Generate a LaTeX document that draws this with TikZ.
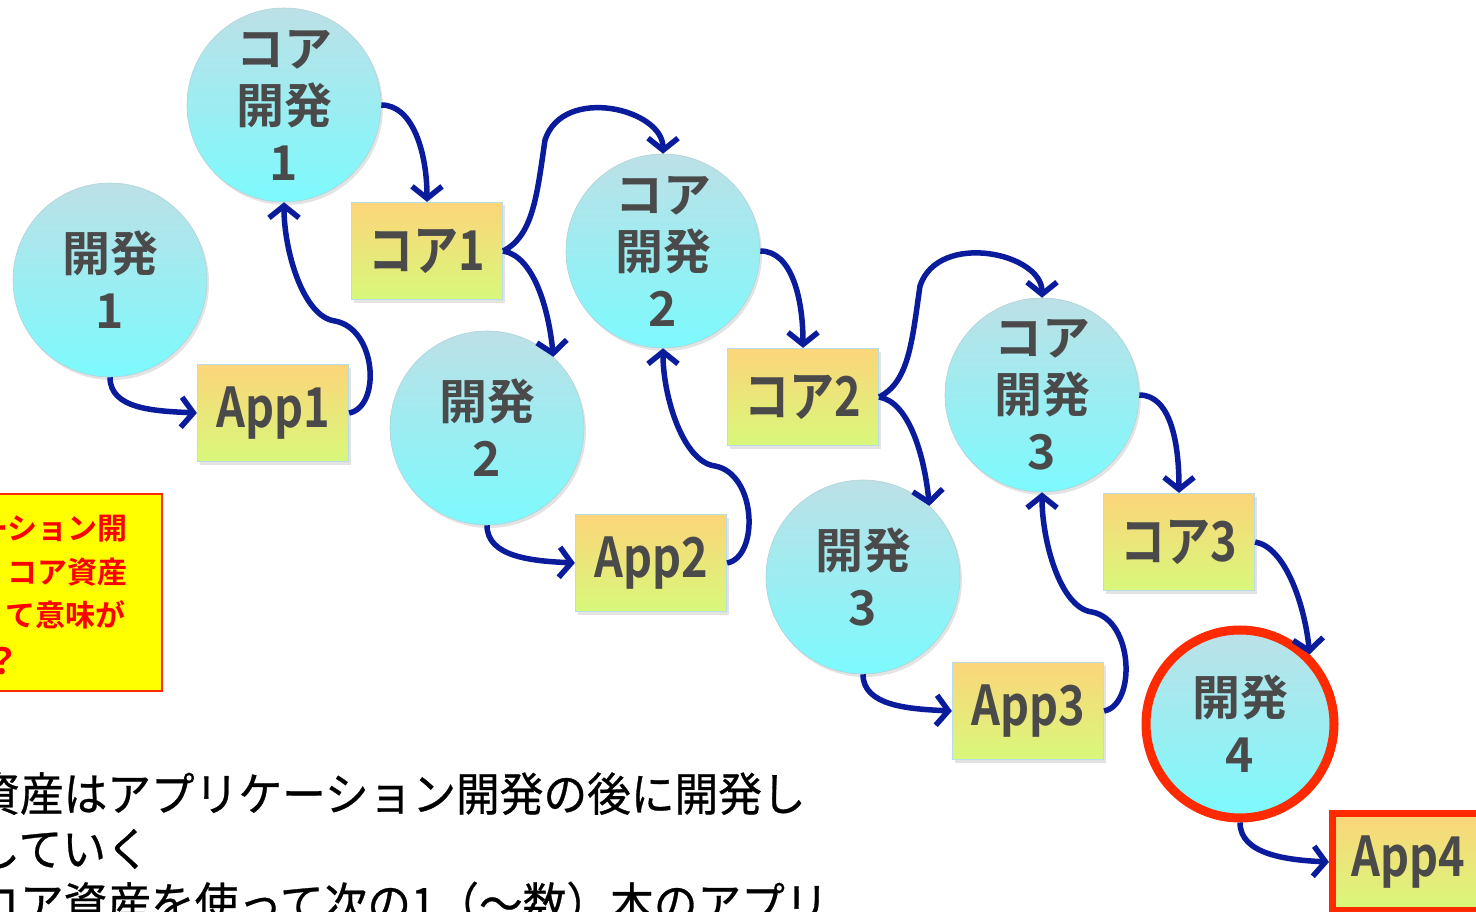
\documentclass[tikz,border=0pt]{standalone}
\usepackage{fontspec}
\newfontfamily\jp{Noto Sans CJK JP}[BoldFont={* Bold}]
\newfontfamily\jpc{Noto Sans CJK JP}[BoldFont={* Bold},FakeStretch=0.82]
\newfontfamily\jpb{Noto Sans CJK JP}[FakeStretch=0.95,FakeBold=0.6]
\usetikzlibrary{arrows.meta,shadows}
\definecolor{circtop}{HTML}{BCE0E6}
\definecolor{circbot}{HTML}{7CFAFD}
\definecolor{boxtop}{HTML}{FCD57A}
\definecolor{boxbot}{HTML}{D8F87A}
\definecolor{boxedge}{HTML}{B8DCE8}
\definecolor{arrowblue}{HTML}{0A1C9C}
\definecolor{txtgray}{HTML}{4A4A4A}
\definecolor{alertred}{HTML}{FF2A00}
\definecolor{noteyellow}{HTML}{FFFF00}
\tikzset{
  circ/.style={circle, minimum size=194pt, inner sep=0pt, top color=circtop, bottom color=circbot,
    draw=circtop!85!gray, line width=0.6pt,
    drop shadow={opacity=0.22, shadow xshift=2pt, shadow yshift=-3pt},
    text=txtgray, font=\jp\bfseries\fontsize{48}{57}\selectfont, align=center},
  boxn/.style={rectangle, minimum width=151pt, minimum height=97pt, inner sep=0pt,
    top color=boxtop, bottom color=boxbot, draw=boxedge, line width=1.2pt,
    drop shadow={opacity=0.22, shadow xshift=2pt, shadow yshift=-3pt},
    text=txtgray, font=\jpc\bfseries\fontsize{55}{60}\selectfont},
  alert/.style={draw=alertred, line width=9pt},
  flow/.style={draw=arrowblue, line width=5.5pt,
    -{Straight Barb[length=12pt,width=30pt]}},
  notetext/.style={text=red, font=\jp\bfseries\fontsize{30}{44}\selectfont, inner sep=0pt},
  bodytext/.style={text=black, font=\jpb\fontsize{46}{55}\selectfont, inner sep=0pt, align=left}
}
\begin{document}
\begin{tikzpicture}[x=1pt,y=-1pt]
\useasboundingbox (0,0) rectangle (1476,912);
\begin{scope}
\clip (0,0) rectangle (1476,912);
\fill[white] (0,0) rectangle (1476,912);

% note box
\node[draw=alertred, line width=2pt, fill=noteyellow, minimum width=210pt, minimum height=197pt, inner sep=0pt] (note) at (57,592.5) {};
\node[notetext, anchor=base east] (n1) at (128,539) {ーション開};
\node[notetext, anchor=base east] (n2) at (128,583) {コア資産};
\node[notetext, anchor=base east] (n3) at (126,626) {て意味が};
\node[notetext, anchor=base west, font=\jp\bfseries\fontsize{36}{44}\selectfont] (n4) at (-16,674) {？};

% body text
\node[bodytext, anchor=base west] (body) at (-24,921) {資産はアプリケーション開発の後に開発し\\していく\\コア資産を使って次の1（～数）本のアプリ};

% circles
\node[circ] (d1) at (110,280) {開発\\1};
\node[circ] (c1) at (284,105) {コア\\開発\\1};
\node[circ] (d2) at (487,428) {開発\\2};
\node[circ] (c2) at (663,251) {コア\\開発\\2};
\node[circ] (d3) at (863,577) {開発\\3};
\node[circ] (c3) at (1042,395) {コア\\開発\\3};
\node[circ, alert, minimum size=188pt] (d4) at (1240,724) {開発\\4};

% boxes
\node[boxn] (a1) at (273,413) {App1};
\node[boxn] (k1) at (427,251) {コア1};
\node[boxn] (a2) at (651,563) {App2};
\node[boxn] (k2) at (803,397) {コア2};
\node[boxn] (a3) at (1028,711) {App3};
\node[boxn] (k3) at (1179,542) {コア3};
\node[boxn, draw=alertred, line width=7pt] (a4) at (1408,862) {App4};

\coordinate (m1) at (335,321);
\coordinate (m2) at (715,466);
\coordinate (m3) at (1092,612);
\coordinate (t1) at (545,140);
\coordinate (t2) at (920,286);

% connectors
\draw[flow] (d1.south) .. controls +(0,32) and +(-42,-2) .. (a1.west);
\draw[flow] (a1.east) .. controls +(32,-6) and +(42,8) .. (m1) .. controls +(-32,-4) and +(0,48) .. (c1.south);
\draw[flow] (c1.east) .. controls +(32,0) and +(0,-48) .. (k1.north);
\draw[flow] (k1.east) .. controls +(30,-15) and +(-8,55) .. (t1) .. controls +(18,-55) and +(0,-45) .. (c2.north);
\draw[flow] (k1.east) .. controls +(30,5) and +(-5,-50) .. (d2.47);

\draw[flow] (d2.south) .. controls +(0,32) and +(-42,-2) .. (a2.west);
\draw[flow] (a2.east) .. controls +(32,-6) and +(42,8) .. (m2) .. controls +(-32,-4) and +(0,48) .. (c2.south);
\draw[flow] (c2.east) .. controls +(32,0) and +(0,-48) .. (k2.north);
\draw[flow] (k2.east) .. controls +(30,-15) and +(-8,55) .. (t2) .. controls +(18,-55) and +(0,-45) .. (c3.north);
\draw[flow] (k2.east) .. controls +(30,5) and +(-5,-50) .. (d3.47);

\draw[flow] (d3.south) .. controls +(0,32) and +(-42,-2) .. (a3.west);
\draw[flow] (a3.east) .. controls +(32,-6) and +(42,8) .. (m3) .. controls +(-32,-4) and +(0,48) .. (c3.south);
\draw[flow] (c3.east) .. controls +(32,0) and +(0,-48) .. (k3.north);
\draw[flow] (k3.east) .. controls +(30,5) and +(-5,-50) .. (d4.45);
\draw[flow] (d4.south) .. controls +(0,32) and +(-42,-2) .. (a4.west);
\end{scope}
\end{tikzpicture}
\end{document}
